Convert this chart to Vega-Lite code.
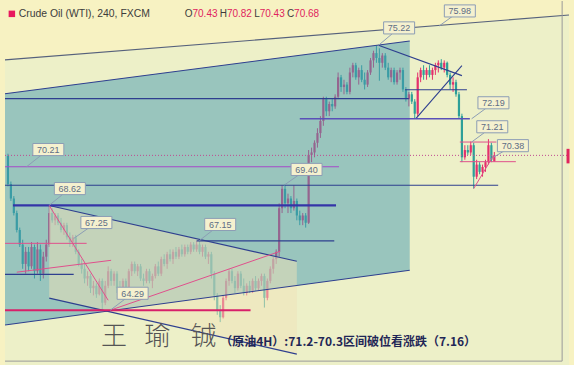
{
"$schema":"https://vega.github.io/schema/vega-lite/v6.json",
"width":574,"height":365,"autosize":{"type":"fit","contains":"padding"},"padding":0,
"background":"#f7f2c2",
"config":{"view":{"stroke":null}},
"datasets":{
"candles":[
{"t":1,"o":70.65,"h":70.75,"l":69.4,"c":69.5},{"t":2,"o":69.5,"h":69.6,"l":68.8,"c":68.9},{"t":3,"o":68.9,"h":69.0,"l":68.2,"c":68.3},{"t":4,"o":68.3,"h":68.4,"l":67.5,"c":67.6},{"t":5,"o":67.6,"h":67.7,"l":66.9,"c":67.0},
{"t":6,"o":67.0,"h":67.2,"l":66.0,"c":66.2},{"t":7,"o":66.2,"h":66.9,"l":65.8,"c":66.7},{"t":8,"o":66.7,"h":66.9,"l":65.9,"c":66.1},{"t":9,"o":66.1,"h":67.1,"l":66.0,"c":66.9},{"t":10,"o":66.9,"h":67.0,"l":65.6,"c":65.9},
{"t":11,"o":65.9,"h":67.1,"l":65.8,"c":66.8},{"t":12,"o":66.8,"h":67.0,"l":65.5,"c":65.8},{"t":13,"o":65.8,"h":66.7,"l":65.6,"c":66.5},{"t":14,"o":66.5,"h":67.2,"l":66.3,"c":67.0},{"t":15,"o":67.0,"h":68.62,"l":66.9,"c":68.3},
{"t":16,"o":68.3,"h":68.5,"l":67.9,"c":68.0},{"t":17,"o":68.0,"h":68.3,"l":67.8,"c":68.2},{"t":18,"o":68.2,"h":68.3,"l":67.8,"c":67.9},{"t":19,"o":67.9,"h":68.1,"l":67.5,"c":67.6},{"t":20,"o":67.6,"h":67.9,"l":67.4,"c":67.8},
{"t":21,"o":67.8,"h":67.9,"l":67.2,"c":67.3},{"t":22,"o":67.3,"h":67.5,"l":66.9,"c":67.1},{"t":23,"o":67.1,"h":67.4,"l":66.9,"c":67.3},{"t":24,"o":67.3,"h":67.4,"l":66.6,"c":66.7},{"t":25,"o":66.7,"h":66.8,"l":66.1,"c":66.2},
{"t":26,"o":66.2,"h":66.4,"l":65.8,"c":66.0},{"t":27,"o":66.0,"h":66.2,"l":65.4,"c":65.6},{"t":28,"o":65.6,"h":65.9,"l":65.3,"c":65.7},{"t":29,"o":65.7,"h":65.8,"l":65.0,"c":65.2},{"t":30,"o":65.2,"h":65.5,"l":64.9,"c":65.3},
{"t":31,"o":65.3,"h":65.4,"l":64.8,"c":64.95},{"t":32,"o":64.95,"h":65.6,"l":64.9,"c":65.5},{"t":33,"o":65.5,"h":65.6,"l":64.29,"c":64.6},{"t":34,"o":64.6,"h":65.5,"l":64.5,"c":65.3},{"t":35,"o":65.3,"h":66.1,"l":65.2,"c":65.9},
{"t":36,"o":65.9,"h":66.0,"l":65.3,"c":65.5},{"t":37,"o":65.5,"h":65.9,"l":65.3,"c":65.8},{"t":38,"o":65.8,"h":65.9,"l":65.0,"c":65.2},{"t":39,"o":65.2,"h":65.5,"l":64.85,"c":65.0},{"t":40,"o":65.0,"h":65.6,"l":64.9,"c":65.5},
{"t":41,"o":65.5,"h":65.6,"l":65.0,"c":65.1},{"t":42,"o":65.1,"h":66.0,"l":65.0,"c":65.9},{"t":43,"o":65.9,"h":66.3,"l":65.7,"c":66.2},{"t":44,"o":66.2,"h":66.3,"l":65.8,"c":65.9},{"t":45,"o":65.9,"h":66.2,"l":65.7,"c":66.1},
{"t":46,"o":66.1,"h":66.2,"l":65.5,"c":65.6},{"t":47,"o":65.6,"h":65.8,"l":65.3,"c":65.5},{"t":48,"o":65.5,"h":66.0,"l":65.4,"c":65.9},{"t":49,"o":65.9,"h":66.0,"l":65.4,"c":65.5},{"t":50,"o":65.5,"h":65.8,"l":65.2,"c":65.7},
{"t":51,"o":65.7,"h":66.2,"l":65.6,"c":66.1},{"t":52,"o":66.1,"h":66.3,"l":65.7,"c":65.8},{"t":53,"o":65.8,"h":66.5,"l":65.7,"c":66.4},{"t":54,"o":66.4,"h":66.6,"l":66.1,"c":66.2},{"t":55,"o":66.2,"h":66.7,"l":66.0,"c":66.6},
{"t":56,"o":66.6,"h":66.8,"l":66.3,"c":66.4},{"t":57,"o":66.4,"h":66.8,"l":66.2,"c":66.7},{"t":58,"o":66.7,"h":66.9,"l":66.4,"c":66.5},{"t":59,"o":66.5,"h":66.9,"l":66.4,"c":66.8},{"t":60,"o":66.8,"h":67.0,"l":66.5,"c":66.6},
{"t":61,"o":66.6,"h":67.0,"l":66.5,"c":66.9},{"t":62,"o":66.9,"h":67.0,"l":66.6,"c":66.7},{"t":63,"o":66.7,"h":67.1,"l":66.6,"c":67.0},{"t":64,"o":67.0,"h":67.1,"l":66.7,"c":66.8},{"t":65,"o":66.8,"h":67.15,"l":66.7,"c":67.0},
{"t":66,"o":67.0,"h":67.15,"l":66.6,"c":66.7},{"t":67,"o":66.7,"h":67.0,"l":66.5,"c":66.9},{"t":68,"o":66.9,"h":67.0,"l":66.4,"c":66.5},{"t":69,"o":66.5,"h":66.7,"l":66.2,"c":66.6},{"t":70,"o":66.6,"h":66.7,"l":65.6,"c":65.8},
{"t":71,"o":65.8,"h":65.9,"l":64.7,"c":64.9},{"t":72,"o":64.9,"h":65.0,"l":64.1,"c":64.3},{"t":73,"o":64.3,"h":64.5,"l":63.8,"c":64.0},{"t":74,"o":64.0,"h":64.9,"l":63.95,"c":64.8},{"t":75,"o":64.8,"h":65.6,"l":64.7,"c":65.5},
{"t":76,"o":65.5,"h":66.0,"l":65.3,"c":65.9},{"t":77,"o":65.9,"h":66.0,"l":65.4,"c":65.5},{"t":78,"o":65.5,"h":65.7,"l":65.0,"c":65.2},{"t":79,"o":65.2,"h":65.9,"l":65.1,"c":65.8},{"t":80,"o":65.8,"h":65.9,"l":65.2,"c":65.3},
{"t":81,"o":65.3,"h":65.6,"l":64.9,"c":65.0},{"t":82,"o":65.0,"h":65.4,"l":64.9,"c":65.3},{"t":83,"o":65.3,"h":65.5,"l":65.0,"c":65.1},{"t":84,"o":65.1,"h":65.6,"l":65.0,"c":65.5},{"t":85,"o":65.5,"h":65.7,"l":65.1,"c":65.2},
{"t":86,"o":65.2,"h":65.6,"l":65.1,"c":65.5},{"t":87,"o":65.5,"h":65.8,"l":65.3,"c":65.7},{"t":88,"o":65.7,"h":65.8,"l":64.4,"c":64.8},{"t":89,"o":64.8,"h":65.6,"l":64.7,"c":65.5},{"t":90,"o":65.5,"h":66.1,"l":65.4,"c":66.0},
{"t":91,"o":66.0,"h":66.5,"l":65.8,"c":66.4},{"t":92,"o":66.4,"h":66.8,"l":66.2,"c":66.7},{"t":93,"o":66.7,"h":68.7,"l":66.5,"c":68.5},{"t":94,"o":68.5,"h":69.45,"l":68.3,"c":69.3},{"t":95,"o":69.3,"h":69.5,"l":68.5,"c":68.7},
{"t":96,"o":68.7,"h":69.1,"l":68.3,"c":68.9},{"t":97,"o":68.9,"h":69.0,"l":68.3,"c":68.5},{"t":98,"o":68.5,"h":69.45,"l":68.4,"c":68.8},{"t":99,"o":68.8,"h":68.9,"l":68.0,"c":68.2},{"t":100,"o":68.2,"h":68.4,"l":67.8,"c":68.0},
{"t":101,"o":68.0,"h":68.3,"l":67.8,"c":68.2},{"t":102,"o":68.2,"h":68.3,"l":67.7,"c":67.9},{"t":103,"o":67.9,"h":70.9,"l":67.85,"c":70.7},{"t":104,"o":70.7,"h":71.0,"l":70.4,"c":70.8},{"t":105,"o":70.8,"h":71.3,"l":70.6,"c":71.2},
{"t":106,"o":71.2,"h":71.8,"l":71.0,"c":71.6},{"t":107,"o":71.6,"h":72.3,"l":71.4,"c":72.1},{"t":108,"o":72.1,"h":73.1,"l":71.9,"c":73.0},{"t":109,"o":73.0,"h":73.1,"l":72.3,"c":72.5},{"t":110,"o":72.5,"h":72.9,"l":72.3,"c":72.8},
{"t":111,"o":72.8,"h":73.0,"l":72.5,"c":72.7},{"t":112,"o":72.7,"h":73.2,"l":72.6,"c":73.1},{"t":113,"o":73.1,"h":74.1,"l":73.0,"c":73.9},{"t":114,"o":73.9,"h":74.0,"l":73.3,"c":73.5},{"t":115,"o":73.5,"h":73.8,"l":73.2,"c":73.6},
{"t":116,"o":73.6,"h":73.7,"l":73.2,"c":73.3},{"t":117,"o":73.3,"h":74.3,"l":73.2,"c":74.1},{"t":118,"o":74.1,"h":74.5,"l":73.9,"c":74.4},{"t":119,"o":74.4,"h":74.5,"l":73.8,"c":73.9},{"t":120,"o":73.9,"h":74.3,"l":73.6,"c":74.2},
{"t":121,"o":74.2,"h":74.4,"l":73.7,"c":73.8},{"t":122,"o":73.8,"h":74.1,"l":73.4,"c":73.6},{"t":123,"o":73.6,"h":74.2,"l":73.5,"c":74.1},{"t":124,"o":74.1,"h":74.7,"l":74.0,"c":74.6},{"t":125,"o":74.6,"h":75.0,"l":74.3,"c":74.9},
{"t":126,"o":74.9,"h":75.22,"l":74.5,"c":74.7},{"t":127,"o":74.7,"h":75.1,"l":73.76,"c":74.5},{"t":128,"o":74.5,"h":74.9,"l":74.3,"c":74.8},{"t":129,"o":74.8,"h":74.9,"l":74.2,"c":74.3},{"t":130,"o":74.3,"h":74.5,"l":73.8,"c":73.9},
{"t":131,"o":73.9,"h":74.3,"l":73.7,"c":74.2},{"t":132,"o":74.2,"h":74.3,"l":73.6,"c":73.7},{"t":133,"o":73.7,"h":74.2,"l":73.6,"c":74.1},{"t":134,"o":74.1,"h":74.3,"l":73.8,"c":74.2},{"t":135,"o":74.2,"h":74.3,"l":73.3,"c":73.4},
{"t":136,"o":73.4,"h":73.5,"l":72.9,"c":73.0},{"t":137,"o":73.0,"h":73.3,"l":72.7,"c":73.2},{"t":138,"o":73.2,"h":73.3,"l":72.8,"c":72.9},{"t":139,"o":72.9,"h":73.0,"l":72.19,"c":72.4},{"t":140,"o":72.4,"h":74.1,"l":72.3,"c":73.9},
{"t":141,"o":73.9,"h":74.3,"l":73.7,"c":74.2},{"t":142,"o":74.2,"h":74.4,"l":73.8,"c":74.0},{"t":143,"o":74.0,"h":74.3,"l":73.8,"c":74.2},{"t":144,"o":74.2,"h":74.4,"l":73.9,"c":74.0},{"t":145,"o":74.0,"h":74.3,"l":73.8,"c":74.2},
{"t":146,"o":74.2,"h":74.5,"l":74.0,"c":74.4},{"t":147,"o":74.4,"h":74.6,"l":74.1,"c":74.5},{"t":148,"o":74.5,"h":74.65,"l":74.2,"c":74.3},{"t":149,"o":74.3,"h":74.6,"l":74.1,"c":74.5},{"t":150,"o":74.5,"h":74.55,"l":73.9,"c":74.0},
{"t":151,"o":74.0,"h":74.1,"l":73.4,"c":73.6},{"t":152,"o":73.6,"h":73.9,"l":73.3,"c":73.7},{"t":153,"o":73.7,"h":73.8,"l":73.1,"c":73.2},{"t":154,"o":73.2,"h":73.3,"l":72.2,"c":72.3},{"t":155,"o":72.3,"h":72.4,"l":70.4,"c":70.6},
{"t":156,"o":70.6,"h":71.1,"l":70.5,"c":70.9},{"t":157,"o":70.9,"h":71.1,"l":70.7,"c":70.8},{"t":158,"o":70.8,"h":71.25,"l":70.7,"c":71.1},{"t":159,"o":71.1,"h":71.2,"l":69.31,"c":69.8},{"t":160,"o":69.8,"h":70.5,"l":69.7,"c":70.3},
{"t":161,"o":70.3,"h":70.4,"l":69.9,"c":70.0},{"t":162,"o":70.0,"h":70.3,"l":69.8,"c":70.2},{"t":163,"o":70.2,"h":70.5,"l":70.0,"c":70.4},{"t":164,"o":70.4,"h":71.35,"l":70.3,"c":71.1},{"t":165,"o":71.1,"h":71.2,"l":70.4,"c":70.5},
{"t":166,"o":70.43,"h":70.82,"l":70.43,"c":70.68}
],
"lines":[
{"set":"outer","t1":0,"p1":74.62,"t2":191.33,"p2":76.47},
{"set":"navy","t1":0,"p1":73.22,"t2":137.3,"p2":75.40},
{"set":"navy","t1":0,"p1":63.68,"t2":137.3,"p2":65.94},
{"set":"navy","t1":15,"p1":68.61,"t2":99,"p2":66.31},
{"set":"navy","t1":15,"p1":64.79,"t2":99,"p2":62.48},
{"set":"navy","t1":0,"p1":73.02,"t2":137,"p2":73.02},
{"set":"navy","t1":135.7,"p1":73.39,"t2":156.7,"p2":73.39},
{"set":"navy","t1":126.7,"p1":75.22,"t2":155,"p2":73.97},
{"set":"navy","t1":139.3,"p1":72.19,"t2":155,"p2":74.38},
{"set":"navy","t1":0,"p1":69.45,"t2":167.3,"p2":69.45},
{"set":"navy","t1":65,"p1":67.15,"t2":111.7,"p2":67.15},
{"set":"navy","t1":0,"p1":65.77,"t2":23.3,"p2":65.77},
{"set":"thick","t1":2.7,"p1":68.62,"t2":112.3,"p2":68.62},
{"set":"violet","t1":100,"p1":72.19,"t2":157.7,"p2":72.19},
{"set":"purple","t1":0,"p1":70.21,"t2":113.3,"p2":70.21},
{"set":"pink","t1":0,"p1":67.05,"t2":27.7,"p2":67.05},
{"set":"pink","t1":4,"p1":65.86,"t2":36,"p2":66.35},
{"set":"pink","t1":35.7,"p1":64.29,"t2":93.3,"p2":66.72},
{"set":"pink","t1":15,"p1":68.61,"t2":35,"p2":64.7},
{"set":"pink","t1":154.3,"p1":71.23,"t2":166.7,"p2":71.23},
{"set":"pink","t1":154.3,"p1":70.42,"t2":173.3,"p2":70.42},
{"set":"pink","t1":159,"p1":69.31,"t2":165.7,"p2":70.67},
{"set":"red","t1":0,"p1":64.29,"t2":83.3,"p2":64.29},
{"set":"dotted","t1":0,"p1":70.68,"t2":191.33,"p2":70.68},
{"set":"frame","t1":189,"p1":62.19,"t2":189,"p2":77.05},
{"set":"frame","t1":0,"p1":62.19,"t2":189,"p2":62.19},
{"set":"marker","t1":191.0,"p1":70.35,"t2":191.0,"p2":70.95}
],
"labels":[
{"label":"75.98","t":154.3,"p":76.64,"tt":147.3,"tp":76.02},
{"label":"75.22","t":133.7,"p":75.94,"tt":126.7,"tp":75.22},
{"label":"72.19","t":165.7,"p":72.85,"tt":158.3,"tp":72.19},
{"label":"71.21","t":165.3,"p":71.86,"tt":158.3,"tp":71.23},
{"label":"70.38","t":172.3,"p":71.08,"tt":165.7,"tp":70.6},
{"label":"70.21","t":14.7,"p":70.92,"tt":7.3,"tp":70.21},
{"label":"68.62","t":22,"p":69.31,"tt":15,"tp":68.62},
{"label":"67.25","t":31,"p":67.91,"tt":23.3,"tp":67.25},
{"label":"69.40","t":102.3,"p":70.1,"tt":94.7,"tp":69.45},
{"label":"67.15","t":73,"p":67.83,"tt":66,"tp":67.17},
{"label":"64.29","t":43.3,"p":64.99,"tt":35.7,"tp":64.29}
],
"letters":[
{"t":61,"p":76.52,"txt":"O"},{"t":72.87,"p":76.52,"txt":"H"},{"t":84.53,"p":76.52,"txt":"L"},{"t":95.67,"p":76.52,"txt":"C"}
],
"values":[
{"t":63.6,"p":76.52,"txt":"70.43"},{"t":75.27,"p":76.52,"txt":"70.82"},{"t":86.4,"p":76.52,"txt":"70.43"},{"t":98.07,"p":76.52,"txt":"70.68"}
]
},
"layer":[
{"data":{"values":[{"t":0,"top":74.62,"bot":62.03},{"t":191.33,"top":76.47,"bot":62.03}]},
 "mark":{"type":"area","color":"#d8ecd8","opacity":0.3},
 "encoding":{
  "x":{"field":"t","type":"quantitative","scale":{"domain":[0,191.33],"nice":false,"zero":false},
       "axis":{"grid":true,"values":[25.2,48.7,72.2,95.7,119.2,142.7,166.2],"labels":false,"ticks":false,"domain":false,"title":null,"gridColor":"#6f9fb5","gridOpacity":0.2}},
  "y":{"field":"top","type":"quantitative","scale":{"domain":[62.03,77.05],"nice":false,"zero":false},
       "axis":{"grid":true,"values":[63,64,65,66,67,68,69,70,71,72,73,74,75,76],"labels":false,"ticks":false,"domain":false,"title":null,"gridColor":"#6f9fb5","gridOpacity":0.2}},
  "y2":{"field":"bot"}}},
{"data":{"name":"candles"},
 "mark":{"type":"rule","strokeWidth":1},
 "encoding":{
  "x":{"field":"t","type":"quantitative","scale":{"domain":[0,191.33],"nice":false,"zero":false},"axis":null},
  "y":{"field":"l","type":"quantitative","scale":{"domain":[62.03,77.05],"nice":false,"zero":false},"axis":null},
  "y2":{"field":"h"},
  "color":{"condition":{"test":"datum.c >= datum.o","value":"#e4306c"},"value":"#2e9f98"}}},
{"data":{"name":"candles"},
 "mark":{"type":"bar","size":2.2},
 "encoding":{
  "x":{"field":"t","type":"quantitative","scale":{"domain":[0,191.33],"nice":false,"zero":false},"axis":null},
  "y":{"field":"o","type":"quantitative","scale":{"domain":[62.03,77.05],"nice":false,"zero":false},"axis":null},
  "y2":{"field":"c"},
  "color":{"condition":{"test":"datum.c >= datum.o","value":"#e4306c"},"value":"#2e9f98"}}},
{"data":{"values":[{"t":0,"top":73.22,"bot":63.68},{"t":137.3,"top":75.40,"bot":65.94}]},
 "mark":{"type":"area","color":"#4699b2","opacity":0.5},
 "encoding":{
  "x":{"field":"t","type":"quantitative","scale":{"domain":[0,191.33],"nice":false,"zero":false},"axis":null},
  "y":{"field":"top","type":"quantitative","scale":{"domain":[62.03,77.05],"nice":false,"zero":false},"axis":null},
  "y2":{"field":"bot"}}},
{"data":{"values":[{"t":15,"top":68.61,"bot":64.79},{"t":99,"top":66.31,"bot":62.48}]},
 "mark":{"type":"area","color":"#efe2b8","opacity":0.5},
 "encoding":{
  "x":{"field":"t","type":"quantitative","scale":{"domain":[0,191.33],"nice":false,"zero":false},"axis":null},
  "y":{"field":"top","type":"quantitative","scale":{"domain":[62.03,77.05],"nice":false,"zero":false},"axis":null},
  "y2":{"field":"bot"}}},
{"data":{"name":"lines"},"transform":[{"filter":"datum.set == 'outer'"}],
 "mark":{"type":"rule","color":"#56617c","strokeWidth":1.1},
 "encoding":{"x":{"field":"t1","type":"quantitative","scale":{"domain":[0,191.33],"nice":false,"zero":false},"axis":null},"x2":{"field":"t2"},
  "y":{"field":"p1","type":"quantitative","scale":{"domain":[62.03,77.05],"nice":false,"zero":false},"axis":null},"y2":{"field":"p2"}}},
{"data":{"name":"lines"},"transform":[{"filter":"datum.set == 'navy'"}],
 "mark":{"type":"rule","color":"#2e3f8f","strokeWidth":1.1},
 "encoding":{"x":{"field":"t1","type":"quantitative","scale":{"domain":[0,191.33],"nice":false,"zero":false},"axis":null},"x2":{"field":"t2"},
  "y":{"field":"p1","type":"quantitative","scale":{"domain":[62.03,77.05],"nice":false,"zero":false},"axis":null},"y2":{"field":"p2"}}},
{"data":{"name":"lines"},"transform":[{"filter":"datum.set == 'thick'"}],
 "mark":{"type":"rule","color":"#3434a8","strokeWidth":2.3},
 "encoding":{"x":{"field":"t1","type":"quantitative","scale":{"domain":[0,191.33],"nice":false,"zero":false},"axis":null},"x2":{"field":"t2"},
  "y":{"field":"p1","type":"quantitative","scale":{"domain":[62.03,77.05],"nice":false,"zero":false},"axis":null},"y2":{"field":"p2"}}},
{"data":{"name":"lines"},"transform":[{"filter":"datum.set == 'violet'"}],
 "mark":{"type":"rule","color":"#5a50b8","strokeWidth":1.6},
 "encoding":{"x":{"field":"t1","type":"quantitative","scale":{"domain":[0,191.33],"nice":false,"zero":false},"axis":null},"x2":{"field":"t2"},
  "y":{"field":"p1","type":"quantitative","scale":{"domain":[62.03,77.05],"nice":false,"zero":false},"axis":null},"y2":{"field":"p2"}}},
{"data":{"name":"lines"},"transform":[{"filter":"datum.set == 'purple'"}],
 "mark":{"type":"rule","color":"#a64ac9","strokeWidth":1.2},
 "encoding":{"x":{"field":"t1","type":"quantitative","scale":{"domain":[0,191.33],"nice":false,"zero":false},"axis":null},"x2":{"field":"t2"},
  "y":{"field":"p1","type":"quantitative","scale":{"domain":[62.03,77.05],"nice":false,"zero":false},"axis":null},"y2":{"field":"p2"}}},
{"data":{"name":"lines"},"transform":[{"filter":"datum.set == 'pink'"}],
 "mark":{"type":"rule","color":"#e0508c","strokeWidth":1},
 "encoding":{"x":{"field":"t1","type":"quantitative","scale":{"domain":[0,191.33],"nice":false,"zero":false},"axis":null},"x2":{"field":"t2"},
  "y":{"field":"p1","type":"quantitative","scale":{"domain":[62.03,77.05],"nice":false,"zero":false},"axis":null},"y2":{"field":"p2"}}},
{"data":{"name":"lines"},"transform":[{"filter":"datum.set == 'red'"}],
 "mark":{"type":"rule","color":"#d8206a","strokeWidth":2},
 "encoding":{"x":{"field":"t1","type":"quantitative","scale":{"domain":[0,191.33],"nice":false,"zero":false},"axis":null},"x2":{"field":"t2"},
  "y":{"field":"p1","type":"quantitative","scale":{"domain":[62.03,77.05],"nice":false,"zero":false},"axis":null},"y2":{"field":"p2"}}},
{"data":{"name":"lines"},"transform":[{"filter":"datum.set == 'dotted'"}],
 "mark":{"type":"rule","color":"#c04a90","strokeWidth":1,"strokeDash":[1,2]},
 "encoding":{"x":{"field":"t1","type":"quantitative","scale":{"domain":[0,191.33],"nice":false,"zero":false},"axis":null},"x2":{"field":"t2"},
  "y":{"field":"p1","type":"quantitative","scale":{"domain":[62.03,77.05],"nice":false,"zero":false},"axis":null},"y2":{"field":"p2"}}},
{"data":{"name":"lines"},"transform":[{"filter":"datum.set == 'frame'"}],
 "mark":{"type":"rule","color":"#9a9a9a","strokeWidth":1},
 "encoding":{"x":{"field":"t1","type":"quantitative","scale":{"domain":[0,191.33],"nice":false,"zero":false},"axis":null},"x2":{"field":"t2"},
  "y":{"field":"p1","type":"quantitative","scale":{"domain":[62.03,77.05],"nice":false,"zero":false},"axis":null},"y2":{"field":"p2"}}},
{"data":{"name":"lines"},"transform":[{"filter":"datum.set == 'marker'"}],
 "mark":{"type":"rule","color":"#e0245e","strokeWidth":3},
 "encoding":{"x":{"field":"t1","type":"quantitative","scale":{"domain":[0,191.33],"nice":false,"zero":false},"axis":null},"x2":{"field":"t2"},
  "y":{"field":"p1","type":"quantitative","scale":{"domain":[62.03,77.05],"nice":false,"zero":false},"axis":null},"y2":{"field":"p2"}}},
{"data":{"name":"labels"},
 "mark":{"type":"rule","color":"#8c9db5","strokeWidth":1},
 "encoding":{"x":{"field":"t","type":"quantitative","scale":{"domain":[0,191.33],"nice":false,"zero":false},"axis":null},"x2":{"field":"tt"},
  "y":{"field":"p","type":"quantitative","scale":{"domain":[62.03,77.05],"nice":false,"zero":false},"axis":null},"y2":{"field":"tp"}}},
{"data":{"name":"labels"},
 "mark":{"type":"point","shape":"M-1,-0.39H1V0.39H-1Z","size":961,"filled":true,"fill":"#f5f1cf","stroke":"#8c9db5","strokeWidth":1,"opacity":1},
 "encoding":{"x":{"field":"t","type":"quantitative","scale":{"domain":[0,191.33],"nice":false,"zero":false},"axis":null},
  "y":{"field":"p","type":"quantitative","scale":{"domain":[62.03,77.05],"nice":false,"zero":false},"axis":null}}},
{"data":{"name":"labels"},
 "mark":{"type":"text","font":"Liberation Sans","fontSize":9,"color":"#5d6d85","align":"center","baseline":"middle","dy":0.5},
 "encoding":{"x":{"field":"t","type":"quantitative","scale":{"domain":[0,191.33],"nice":false,"zero":false},"axis":null},
  "y":{"field":"p","type":"quantitative","scale":{"domain":[62.03,77.05],"nice":false,"zero":false},"axis":null},
  "text":{"field":"label"}}},
{"data":{"values":[{"t":2.33,"p":76.52}]},
 "mark":{"type":"point","shape":"square","size":42,"filled":true,"color":"#e8185e","opacity":1},
 "encoding":{"x":{"field":"t","type":"quantitative","scale":{"domain":[0,191.33],"nice":false,"zero":false},"axis":null},
  "y":{"field":"p","type":"quantitative","scale":{"domain":[62.03,77.05],"nice":false,"zero":false},"axis":null}}},
{"data":{"values":[{"t":4.67,"p":76.52,"txt":"Crude Oil (WTI), 240, FXCM"}]},
 "mark":{"type":"text","font":"Liberation Sans","fontSize":10.4,"color":"#3c3c3c","align":"left","baseline":"middle"},
 "encoding":{"x":{"field":"t","type":"quantitative","scale":{"domain":[0,191.33],"nice":false,"zero":false},"axis":null},
  "y":{"field":"p","type":"quantitative","scale":{"domain":[62.03,77.05],"nice":false,"zero":false},"axis":null},
  "text":{"field":"txt"}}},
{"data":{"name":"letters"},
 "mark":{"type":"text","font":"Liberation Sans","fontSize":10,"color":"#3c3c3c","align":"left","baseline":"middle"},
 "encoding":{"x":{"field":"t","type":"quantitative","scale":{"domain":[0,191.33],"nice":false,"zero":false},"axis":null},
  "y":{"field":"p","type":"quantitative","scale":{"domain":[62.03,77.05],"nice":false,"zero":false},"axis":null},
  "text":{"field":"txt"}}},
{"data":{"name":"values"},
 "mark":{"type":"text","font":"Liberation Sans","fontSize":10,"color":"#e0245e","align":"left","baseline":"middle"},
 "encoding":{"x":{"field":"t","type":"quantitative","scale":{"domain":[0,191.33],"nice":false,"zero":false},"axis":null},
  "y":{"field":"p","type":"quantitative","scale":{"domain":[62.03,77.05],"nice":false,"zero":false},"axis":null},
  "text":{"field":"txt"}}},
{"data":{"values":[{"t":37,"p":63.18,"txt":"王"},{"t":51.7,"p":63.18,"txt":"瑜"},{"t":67.3,"p":63.18,"txt":"铖"}]},
 "mark":{"type":"text","font":"Noto Sans CJK SC","fontWeight":300,"fontSize":26,"color":"#555555","align":"center","baseline":"middle"},
 "encoding":{"x":{"field":"t","type":"quantitative","scale":{"domain":[0,191.33],"nice":false,"zero":false},"axis":null},
  "y":{"field":"p","type":"quantitative","scale":{"domain":[62.03,77.05],"nice":false,"zero":false},"axis":null},
  "text":{"field":"txt"}}},
{"data":{"values":[{"t":73,"p":62.98,"txt":"（原油4H）:71.2-70.3区间破位看涨跌（7.16）"}]},
 "mark":{"type":"text","font":"Noto Sans CJK SC","fontWeight":"bold","fontSize":12,"color":"#1f2656","align":"left","baseline":"middle"},
 "encoding":{"x":{"field":"t","type":"quantitative","scale":{"domain":[0,191.33],"nice":false,"zero":false},"axis":null},
  "y":{"field":"p","type":"quantitative","scale":{"domain":[62.03,77.05],"nice":false,"zero":false},"axis":null},
  "text":{"field":"txt"}}}
]
}
